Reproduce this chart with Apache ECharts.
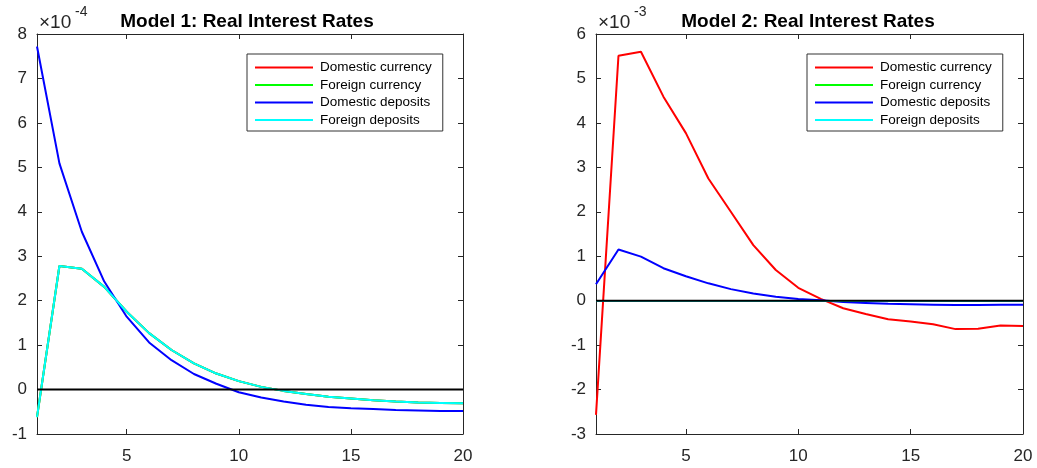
<!DOCTYPE html>
<html>
<head>
<meta charset="utf-8">
<script src="https://cdn.jsdelivr.net/npm/echarts@6/dist/echarts.min.js"></script>
<style>
html,body{margin:0;padding:0;background:#fff;}
#chart{width:1037px;height:468px;}
</style>
</head>
<body>
<div id="chart"></div>
<script>
// ---- data (values in axis units: model 1 ×10^-4, model 2 ×10^-3) ----
var periods = [1,2,3,4,5,6,7,8,9,10,11,12,13,14,15,16,17,18,19,20];
var seriesNames = ['Domestic currency','Foreign currency','Domestic deposits','Foreign deposits'];
var seriesColors = ['#ff0000','#00ff00','#0000ff','#00ffff'];
var xTickValues = [5,10,15,20];

var m1DomesticCurrency = [-0.62,2.78,2.72,2.31,1.75,1.27,0.89,0.59,0.36,0.19,0.06,-0.03,-0.10,-0.16,-0.20,-0.24,-0.27,-0.29,-0.30,-0.31];
var m1ForeignCurrency  = [-0.62,2.78,2.72,2.31,1.75,1.27,0.89,0.59,0.36,0.19,0.06,-0.03,-0.10,-0.16,-0.20,-0.24,-0.27,-0.29,-0.30,-0.31];
var m1DomesticDeposits = [7.72,5.09,3.55,2.43,1.64,1.06,0.66,0.35,0.13,-0.06,-0.18,-0.27,-0.34,-0.39,-0.42,-0.44,-0.46,-0.47,-0.48,-0.48];
var m1ForeignDeposits  = [-0.62,2.78,2.72,2.31,1.75,1.27,0.89,0.59,0.36,0.19,0.06,-0.03,-0.10,-0.16,-0.20,-0.24,-0.27,-0.29,-0.30,-0.31];

var m2DomesticCurrency = [-2.57,5.51,5.60,4.59,3.77,2.75,2.00,1.25,0.69,0.29,0.04,-0.17,-0.30,-0.42,-0.47,-0.53,-0.64,-0.63,-0.56,-0.57];
var m2ForeignCurrency  = [-0.01,-0.01,-0.01,-0.01,-0.01,-0.01,-0.01,-0.01,-0.01,-0.01,-0.01,-0.01,-0.01,-0.01,-0.01,-0.01,-0.01,-0.01,-0.01,-0.01];
var m2DomesticDeposits = [0.37,1.15,0.99,0.73,0.55,0.39,0.26,0.16,0.09,0.04,0.01,-0.03,-0.05,-0.07,-0.08,-0.09,-0.10,-0.10,-0.09,-0.09];
var m2ForeignDeposits  = [-0.01,-0.01,-0.01,-0.01,-0.01,-0.01,-0.01,-0.01,-0.01,-0.01,-0.01,-0.01,-0.01,-0.01,-0.01,-0.01,-0.01,-0.01,-0.01,-0.01];

var m1YRange = [-1, 8];
var m2YRange = [-3, 6];
var titles = ['Model 1: Real Interest Rates','Model 2: Real Interest Rates'];
var exponents = ['-4','-3'];

// ---- build ----
var AX = '#262626';
var FONT = 'Liberation Sans, Arial, sans-serif';
function pairs(ys){ return periods.map(function(p,i){ return [p, ys[i]]; }); }

var grids = [
  {left:37, top:34, width:426, height:400},
  {left:596, top:34, width:427, height:400}
];
var xAxes = [], yAxes = [], series = [], legends = [], titleArr = [], graphics = [];
var panelData = [
  [m1DomesticCurrency,m1ForeignCurrency,m1DomesticDeposits,m1ForeignDeposits],
  [m2DomesticCurrency,m2ForeignCurrency,m2DomesticDeposits,m2ForeignDeposits]
];
var yRanges = [m1YRange, m2YRange];

grids.forEach(function(g, gi){
  var base = {type:'value', gridIndex:gi, min:periods[0], max:periods[periods.length-1],
    axisLine:{show:true, onZero:false, lineStyle:{color:AX, width:1}},
    splitLine:{show:false}};
  xAxes.push(Object.assign({}, base, {position:'bottom',
    axisTick:{show:true, inside:true, length:5, customValues:xTickValues, lineStyle:{color:AX}},
    axisLabel:{show:true, customValues:xTickValues, color:AX, fontSize:17, margin:14, fontFamily:FONT}}));
  xAxes.push(Object.assign({}, base, {position:'top',
    axisTick:{show:true, inside:true, length:5, customValues:xTickValues, lineStyle:{color:AX}},
    axisLabel:{show:false}}));
  var yb = {type:'value', gridIndex:gi, min:yRanges[gi][0], max:yRanges[gi][1], interval:1,
    axisLine:{show:true, onZero:false, lineStyle:{color:AX, width:1}},
    axisTick:{show:true, inside:true, length:5, lineStyle:{color:AX}},
    splitLine:{show:false}};
  yAxes.push(Object.assign({}, yb, {position:'left',
    axisLabel:{show:true, color:AX, fontSize:17, margin:10, fontFamily:FONT}}));
  yAxes.push(Object.assign({}, yb, {position:'right', axisLabel:{show:false}}));

  panelData[gi].forEach(function(ys, si){
    series.push({type:'line', name:seriesNames[si], xAxisIndex:gi*2, yAxisIndex:gi*2,
      data:pairs(ys), showSymbol:false, symbol:'none', smooth:false,
      lineStyle:{color:seriesColors[si], width:2}, itemStyle:{color:seriesColors[si]},
      z:2+si});
  });
  series.push({type:'line', name:'zero', xAxisIndex:gi*2, yAxisIndex:gi*2,
    data:[[periods[0],0],[periods[periods.length-1],0]], showSymbol:false, symbol:'none',
    lineStyle:{color:'#000', width:2}, z:10, silent:true});

  legends.push({show:true, orient:'vertical', left: gi===0 ? 247 : 807, top:54,
    data:seriesNames, icon:'rect', itemWidth:58, itemHeight:2, itemGap:3.5,
    borderColor:'#333', borderWidth:1, backgroundColor:'#fff',
    padding:[6.5,11,4,8],
    textStyle:{color:'#000', fontSize:13.5, lineHeight:14, padding:[0,0,0,2], fontFamily:FONT},
    selectedMode:false});

  var cx = gi===0 ? 242 : 803;
  titleArr.push({text:titles[gi], left:cx, top:7, textAlign:'center',
    textStyle:{fontSize:19, fontWeight:'bold', color:'#000', fontFamily:FONT}});

  var ex = gi===0 ? 39 : 598;
  graphics.push({type:'text', left:ex, top:13, style:{text:'\u00d710', fill:AX, font:'19px ' + FONT}});
  graphics.push({type:'text', left:ex+36, top:5, style:{text:exponents[gi], fill:AX, font:'14px ' + FONT}});
});

var chart = echarts.init(document.getElementById('chart'), null, {renderer:'canvas'});
chart.setOption({
  animation:false,
  backgroundColor:'#fff',
  title:titleArr,
  legend:legends,
  grid:grids,
  xAxis:xAxes,
  yAxis:yAxes,
  series:series,
  graphic:graphics
});
</script>
</body>
</html>
